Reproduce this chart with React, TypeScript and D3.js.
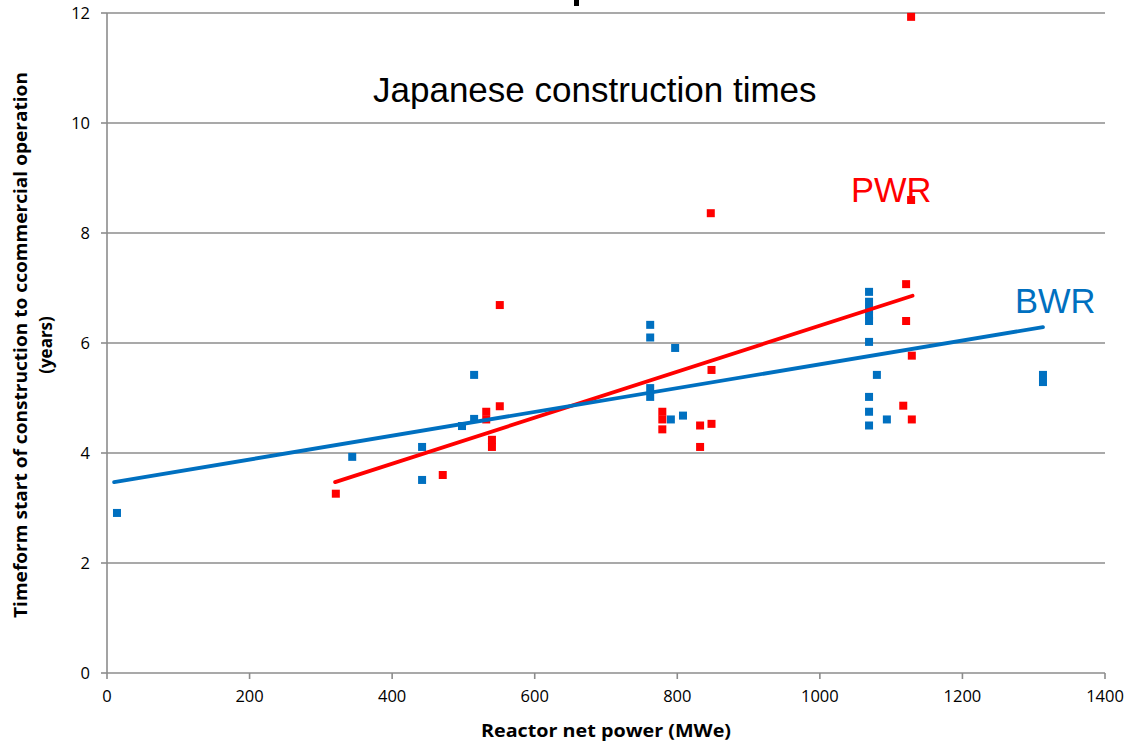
import React from "react";
import * as d3 from "d3";

const xTicks = [0, 200, 400, 600, 800, 1000, 1200, 1400];
const yTicks = [0, 2, 4, 6, 8, 10, 12];

const bwrX = [14, 344, 442, 442, 498, 515, 515, 762, 762, 797, 762, 762, 791, 808, 1069, 1069, 1069, 1069, 1069, 1069, 1080, 1069, 1069, 1069, 1094, 1313, 1313];
const bwrY = [2.91, 3.93, 4.11, 3.51, 4.49, 5.42, 4.62, 6.33, 6.1, 5.91, 5.18, 5.02, 4.61, 4.68, 6.93, 6.75, 6.62, 6.5, 6.4, 6.02, 5.42, 5.02, 4.75, 4.5, 4.61, 5.42, 5.29];

const pwrX = [321, 471, 532, 532, 540, 540, 551, 551, 779, 779, 779, 848, 832, 848, 832, 847, 1121, 1121, 1129, 1117, 1129, 1128, 1128];
const pwrY = [3.26, 3.6, 4.75, 4.61, 4.24, 4.11, 6.69, 4.85, 4.75, 4.61, 4.43, 5.51, 4.5, 4.53, 4.11, 8.36, 7.07, 6.4, 5.77, 4.86, 4.61, 11.93, 8.6];

const bwrTrendX = [10, 1313];
const bwrTrendY = [3.47, 6.29];
const pwrTrendX = [320, 1130];
const pwrTrendY = [3.47, 6.86];

const BLUE = "#0070C0";
const RED = "#FF0000";
const GRID = "#8C8C8C";

export default function App() {
  const W = 1127;
  const H = 744;
  const x = d3.scaleLinear().domain([0, 1400]).range([107, 1105]);
  const y = d3.scaleLinear().domain([0, 12]).range([673, 13]);
  const line = d3
    .line<[number, number]>()
    .x((d) => x(d[0]))
    .y((d) => y(d[1]));
  const bwrTrend = bwrTrendX.map((v, i) => [v, bwrTrendY[i]] as [number, number]);
  const pwrTrend = pwrTrendX.map((v, i) => [v, pwrTrendY[i]] as [number, number]);
  const sq = 8;
  const tickFont = "'Open Sans', 'DejaVu Sans', sans-serif";

  return (
    <svg
      width={W}
      height={H}
      style={{ position: "absolute", left: 0, top: 0, background: "#fff" }}
    >
      <rect x={0} y={0} width={W} height={H} fill="#fff" />
      {/* partial cut-off title (only its descender is visible, as in the source) */}
      <path d="M574,0 L579,0 L579,6 L574,6 Z" fill="#000" />

      {/* grid lines */}
      {yTicks.map((t) => (
        <g key={"gy" + t}>
          <line x1={x(0)} x2={x(1400)} y1={y(t)} y2={y(t)} stroke={GRID} strokeWidth={1.6} />
          <line x1={x(0) - 6} x2={x(0)} y1={y(t)} y2={y(t)} stroke={GRID} strokeWidth={1.6} />
          <text
            x={90}
            y={y(t) + 6}
            textAnchor="end"
            fontFamily={tickFont}
            fontSize={16.5}
            fill="#000"
          >
            {t}
          </text>
        </g>
      ))}
      <line x1={x(0)} x2={x(0)} y1={y(12)} y2={y(0)} stroke={GRID} strokeWidth={1.6} />
      {xTicks.map((t) => (
        <g key={"gx" + t}>
          <line x1={x(t)} x2={x(t)} y1={y(0)} y2={y(0) + 6} stroke={GRID} strokeWidth={1.6} />
          <text
            x={x(t)}
            y={702}
            textAnchor="middle"
            fontFamily={tickFont}
            fontSize={16.5}
            fill="#000"
          >
            {t}
          </text>
        </g>
      ))}

      {/* points */}
      {bwrX.map((v, i) => (
        <rect
          key={"b" + i}
          x={x(v) - sq / 2}
          y={y(bwrY[i]) - sq / 2}
          width={sq}
          height={sq}
          fill={BLUE}
        />
      ))}
      {pwrX.map((v, i) => (
        <rect
          key={"r" + i}
          x={x(v) - sq / 2}
          y={y(pwrY[i]) - sq / 2}
          width={sq}
          height={sq}
          fill={RED}
        />
      ))}

      {/* trend lines */}
      <path d={line(pwrTrend) || ""} stroke={RED} strokeWidth={3.8} fill="none" strokeLinecap="round" />
      <path d={line(bwrTrend) || ""} stroke={BLUE} strokeWidth={3.8} fill="none" strokeLinecap="round" />

      {/* annotations */}
      <text
        x={373}
        y={102}
        fontFamily="'Liberation Sans', Arial, sans-serif"
        fontSize={35}
        fill="#000"
      >
        Japanese construction times
      </text>
      <text
        x={851}
        y={202}
        fontFamily="'Liberation Sans', Arial, sans-serif"
        fontSize={34.5}
        fill={RED}
      >
        PWR
      </text>
      <text
        x={1015}
        y={313}
        fontFamily="'Liberation Sans', Arial, sans-serif"
        fontSize={34.5}
        fill={BLUE}
      >
        BWR
      </text>

      {/* axis titles */}
      <text
        x={606}
        y={737}
        textAnchor="middle"
        fontFamily={tickFont}
        fontWeight="bold"
        fontSize={17}
        textLength={250}
        lengthAdjust="spacingAndGlyphs"
        fill="#000"
      >
        Reactor net power (MWe)
      </text>
      <g transform="translate(27,345) rotate(-90)">
        <text
          x={0}
          y={0}
          textAnchor="middle"
          fontFamily={tickFont}
          fontWeight="bold"
          fontSize={17}
          textLength={546}
          lengthAdjust="spacingAndGlyphs"
          fill="#000"
        >
          Timeform start of construction  to ccommercial operation
        </text>
        <text
          x={0}
          y={25}
          textAnchor="middle"
          fontFamily={tickFont}
          fontWeight="bold"
          fontSize={17}
          fill="#000"
        >
          (years)
        </text>
      </g>
    </svg>
  );
}
